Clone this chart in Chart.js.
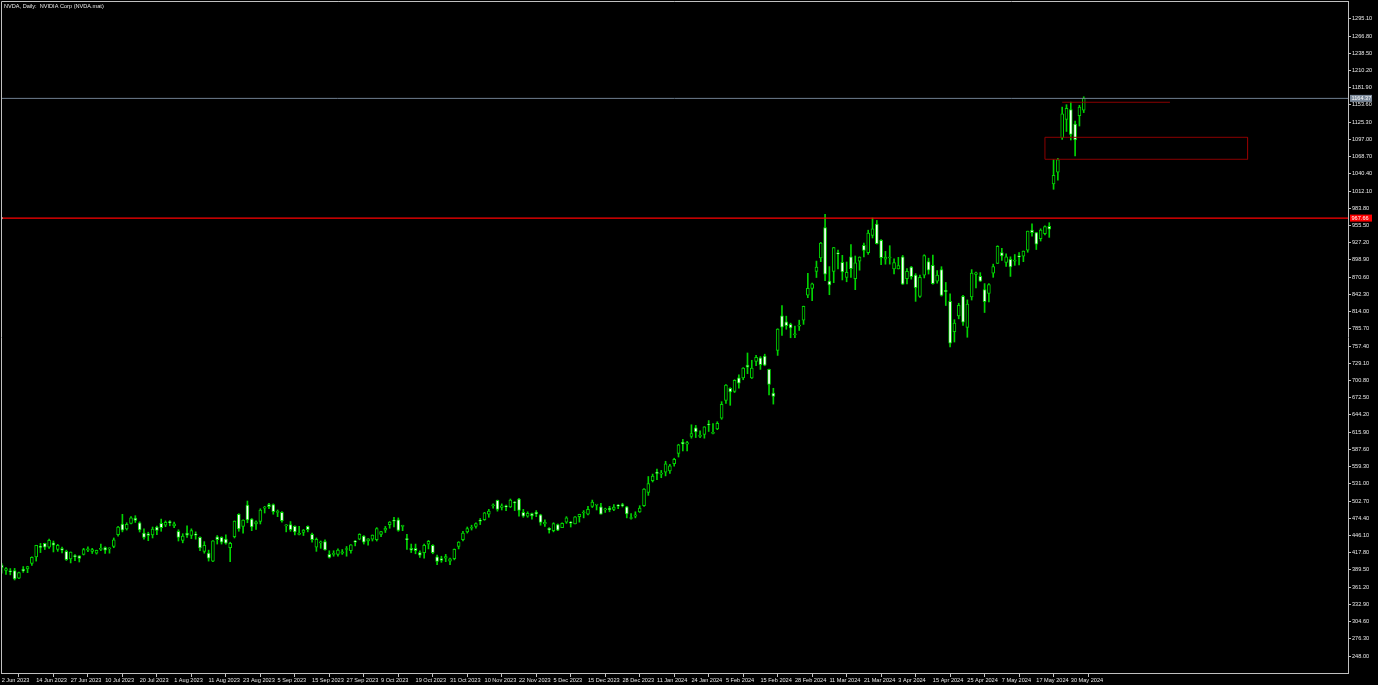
<!DOCTYPE html>
<html><head><meta charset="utf-8">
<script src="https://cdn.jsdelivr.net/npm/chart.js@4.4.1/dist/chart.umd.min.js"></script>
<style>html,body{margin:0;padding:0;background:#000;overflow:hidden}canvas{display:block}</style>
</head><body>
<canvas id="c" width="1378" height="685"></canvas>
<script>
const TITLE = 'NVDA, Daily:  NVIDIA Corp (NVDA.mat)';
const X_TICK_STEP = 8;
const X_TICK_LABELS = ['2 Jun 2023','14 Jun 2023','27 Jun 2023','10 Jul 2023','20 Jul 2023','1 Aug 2023','11 Aug 2023','23 Aug 2023','5 Sep 2023','15 Sep 2023','27 Sep 2023','9 Oct 2023','19 Oct 2023','31 Oct 2023','10 Nov 2023','22 Nov 2023','5 Dec 2023','15 Dec 2023','28 Dec 2023','11 Jan 2024','24 Jan 2024','5 Feb 2024','15 Feb 2024','28 Feb 2024','11 Mar 2024','21 Mar 2024','3 Apr 2024','15 Apr 2024','25 Apr 2024','7 May 2024','17 May 2024','30 May 2024'];
const Y_TICKS = [248.00,276.30,304.60,332.90,361.20,389.50,417.80,446.10,474.40,502.70,531.00,559.30,587.60,615.90,644.20,672.50,700.80,729.10,757.40,785.70,814.00,842.30,870.60,898.90,927.20,955.50,983.80,1012.10,1040.40,1068.70,1097.00,1125.30,1153.60,1181.90,1210.20,1238.50,1266.80,1295.10];

const OPEN = [
397.4,388.5,388.0,388.4,375.9,390.5,391.0,400.0,411.0,427.0,
433.0,427.0,434.0,423.0,424.5,420.0,407.5,413.0,412.5,415.0,
422.0,420.0,417.0,423.0,426.0,424.0,428.0,447.5,465.0,457.0,
466.0,474.5,467.0,450.0,449.0,447.0,460.0,466.0,463.0,468.0,
462.0,453.0,438.0,450.0,446.0,447.0,443.0,420.0,417.0,404.0,
444.0,443.0,440.0,426.0,444.0,481.0,461.0,496.0,473.0,465.0,
469.0,491.0,497.0,497.0,484.0,484.0,462.0,464.0,461.0,448.0,
451.0,461.0,448.0,427.0,434.0,436.0,415.0,415.0,415.0,417.0,
423.0,421.0,437.0,440.0,445.0,437.0,440.0,439.0,448.0,455.0,
464.0,470.0,472.0,461.0,441.0,425.0,425.0,418.0,418.0,432.0,
430.0,411.0,408.0,409.0,404.0,408.0,428.0,439.0,452.0,458.0,
461.0,470.0,472.0,481.0,495.0,504.0,492.0,494.0,493.0,500.0,
506.0,484.0,478.0,482.0,484.0,480.0,465.0,458.0,454.0,464.0,
459.0,468.0,467.0,465.0,477.0,483.0,481.0,494.0,496.0,493.0,
488.0,491.0,489.0,495.0,497.0,493.0,474.0,478.0,485.0,495.0,
517.0,536.0,549.0,547.0,550.0,552.0,564.0,581.0,599.0,596.0,
609.0,623.0,609.0,612.0,629.0,614.0,621.0,639.0,668.0,688.0,
683.0,705.0,705.0,726.0,705.0,732.0,738.0,741.0,719.0,680.0,
750.0,807.0,797.0,793.0,776.0,790.0,800.0,841.0,852.0,880.0,
902.0,952.0,864.0,880.0,910.0,895.0,870.0,904.0,868.0,897.0,
923.0,911.0,939.0,958.0,931.0,900.0,902.0,884.0,884.0,904.0,
868.0,887.0,874.0,839.0,874.0,896.0,890.0,864.0,883.0,849.0,
831.0,781.0,807.0,839.0,788.0,838.0,875.0,872.0,850.0,844.0,
877.0,893.0,911.0,895.0,900.0,897.0,905.0,905.0,915.0,948.0,
944.0,934.0,942.0,954.0,1024.0,1043.0,1100.0,1130.0,1146.0,1122.0,1136.0,1145.0];
const HIGH = [
400.0,393.4,391.7,392.0,386.0,395.0,395.5,410.9,430.0,433.0,
433.4,440.0,437.0,431.5,427.0,422.0,419.0,414.5,413.0,425.0,
427.5,425.0,422.0,432.0,427.5,426.0,442.0,461.0,480.9,467.0,
477.0,478.6,468.5,457.0,451.5,460.0,461.5,473.0,470.0,470.5,
468.0,455.5,449.0,462.0,457.0,452.0,444.0,436.0,422.0,437.7,
446.0,444.0,447.0,435.0,470.0,481.9,472.0,502.7,474.0,470.0,
490.0,494.0,499.0,498.0,488.0,485.5,464.0,469.0,462.0,461.0,
456.0,461.9,450.0,442.0,437.0,439.0,421.0,421.0,424.0,423.0,
428.0,431.0,438.0,449.0,446.0,441.0,447.0,459.0,453.0,461.0,
469.0,476.0,475.0,463.0,448.0,432.0,432.0,421.0,432.0,438.0,
431.0,414.0,412.0,415.0,409.0,424.0,436.0,453.0,460.0,463.0,
467.0,474.0,484.0,489.0,498.0,504.3,498.0,496.0,506.0,502.0,
507.0,489.0,485.0,483.0,487.0,481.0,472.0,459.0,467.0,465.0,
467.0,477.0,469.0,477.0,481.0,487.0,494.0,504.3,497.0,499.0,
491.0,494.0,497.0,497.0,499.0,494.0,482.0,485.0,495.0,523.0,
543.0,547.0,555.0,553.0,568.0,563.0,573.0,596.0,604.0,601.0,
628.0,627.0,618.0,624.9,634.9,630.0,633.0,666.0,694.0,688.9,
702.0,710.0,721.9,746.0,734.0,742.0,740.0,744.0,719.6,688.0,
785.8,823.9,806.5,795.0,790.0,799.9,823.0,876.9,861.0,897.0,
927.7,974.0,887.9,919.6,915.0,906.5,895.5,924.0,905.4,904.0,
926.5,947.8,967.7,963.8,932.5,913.0,922.3,900.9,903.1,906.3,
884.8,888.3,876.4,874.0,907.4,901.8,906.8,881.2,887.8,861.9,
843.2,800.7,827.7,840.8,833.2,883.0,879.0,878.0,860.0,860.0,
892.0,922.2,918.0,909.1,904.0,907.8,911.0,913.6,946.3,958.2,
944.2,950.0,955.0,960.0,1064.0,1066.0,1150.0,1154.0,1158.2,1127.0,1153.0,1167.0];
const LOW = [
384.3,382.0,381.4,373.0,375.0,385.5,385.0,397.0,404.0,418.0,
423.0,425.0,419.0,420.0,417.5,405.0,401.0,404.5,402.5,414.0,
419.5,416.5,415.5,421.0,416.5,417.0,426.0,445.0,452.0,455.0,
465.0,467.5,451.8,440.0,437.5,442.0,447.5,453.0,460.5,462.0,
459.0,437.0,434.0,443.0,441.0,440.0,421.0,417.0,404.0,403.0,
432.0,432.0,432.0,403.0,442.0,453.0,450.0,467.0,454.0,456.0,
465.0,483.0,490.0,481.0,477.0,468.0,452.0,453.0,447.0,447.0,
446.0,452.0,435.0,420.0,425.0,422.0,409.0,412.0,412.0,415.0,
412.0,417.0,429.0,439.0,432.0,430.0,437.0,437.0,444.0,451.0,
458.0,460.0,453.0,454.0,423.0,418.0,416.0,410.0,409.0,424.0,
416.0,398.0,402.0,403.0,398.0,406.0,424.0,437.0,450.0,455.0,
458.0,464.0,471.0,476.0,491.0,486.0,488.0,487.0,492.0,487.0,
478.0,476.0,476.0,473.0,477.0,463.0,461.0,450.0,452.0,454.0,
459.0,466.0,460.0,465.0,468.0,475.0,480.0,492.0,488.0,481.0,
484.0,485.0,487.0,490.0,493.0,475.0,473.0,475.0,484.0,494.0,
512.0,534.0,538.0,541.0,544.0,548.0,560.0,575.0,585.0,585.0,
606.0,607.0,607.0,606.0,617.0,613.0,620.0,637.0,663.0,660.0,
681.0,688.0,702.0,712.0,704.0,725.0,719.0,725.0,677.0,662.0,
742.0,775.0,785.0,771.0,771.0,783.0,793.0,837.0,832.0,870.0,
896.0,865.0,841.7,861.5,884.0,866.0,863.0,870.0,850.0,882.0,
904.0,908.0,935.0,925.0,891.0,891.9,892.0,876.0,884.0,858.5,
859.3,867.3,830.8,837.1,869.3,875.7,859.2,860.6,839.5,824.0,
756.1,764.0,802.1,791.2,771.8,833.0,852.7,863.5,812.5,830.0,
870.3,893.0,898.2,888.2,871.8,890.0,890.7,896.0,911.5,938.0,
916.0,929.9,940.0,936.0,1015.0,1030.0,1097.0,1110.0,1096.0,1070.0,1119.0,1141.0];
const CLOSE = [
393.3,391.7,386.5,374.8,385.1,387.7,394.8,410.2,430.0,426.5,
426.9,438.1,430.3,430.1,422.1,406.3,418.8,411.2,408.2,423.0,
424.1,423.1,421.8,425.0,421.8,424.0,438.8,459.8,454.7,464.6,
474.9,470.8,455.2,443.1,446.1,456.8,454.5,459.0,467.5,467.3,
465.1,442.7,445.2,446.8,454.2,446.6,425.5,430.0,408.6,437.5,
439.4,434.9,433.4,433.0,469.7,456.7,471.2,471.6,460.2,468.4,
487.8,492.6,493.6,485.1,485.5,470.6,462.4,455.7,451.8,448.7,
454.9,455.8,439.0,439.7,435.2,422.4,410.2,416.1,422.2,419.1,
424.7,430.9,435.0,447.8,435.2,440.4,446.9,457.6,452.7,458.0,
468.1,469.5,454.6,461.0,439.4,422.0,421.0,413.9,429.8,436.6,
417.8,403.3,405.0,411.6,407.8,423.3,435.1,450.1,457.5,459.6,
465.7,469.5,483.4,486.2,496.6,488.9,494.8,493.0,504.1,499.4,
487.2,477.8,482.4,478.2,481.4,467.7,467.7,455.1,465.7,455.0,
466.0,475.1,466.3,476.6,480.9,483.5,488.9,500.8,496.0,481.1,
489.9,488.3,492.8,494.2,495.2,481.7,475.7,480.0,491.0,522.5,
531.4,543.5,548.2,547.1,563.8,560.5,571.1,594.9,596.5,598.7,
613.6,616.2,610.3,624.7,627.7,615.3,630.3,661.6,693.3,682.2,
701.0,696.4,721.3,722.5,721.3,739.0,726.6,726.1,694.5,674.7,
785.4,788.2,790.9,787.0,776.6,791.1,822.8,852.4,859.6,887.0,
926.7,875.3,857.7,919.1,908.9,879.4,878.4,884.6,894.0,903.7,
914.4,942.9,950.0,925.6,902.5,903.6,903.6,894.5,889.6,859.1,
880.1,871.3,853.5,870.4,906.2,881.9,860.0,874.2,840.4,846.7,
762.0,795.2,824.2,796.8,826.3,877.4,877.6,864.0,830.4,858.2,
887.9,921.4,905.5,904.1,887.5,898.8,904.0,913.6,946.3,943.6,
924.8,947.8,953.9,949.5,1038.0,1064.0,1139.0,1148.0,1105.0,1096.0,1150.0,1164.4];

const BID = 1164.37;           // current price line
const LEVEL = 967.66;          // red horizontal level
const TREND_X = [246, 271], TREND_Y = [1158.0, 1158.0];
const ZONE_X = [242, 289], ZONE_Y = [1064.3, 1100.4];
const X_MIN = -0.16, X_MAX = 312.3, Y_MIN = 220.1, Y_MAX = 1324.4;

const GREEN = '#00d400';
const AXIS = '#c0c0c0';
const TXT = '#e8e8e8';
const FONT = {family: '"Liberation Sans", Arial, sans-serif', size: 5.6};

const idx = OPEN.map((_, i) => i);
const wickData = idx.map(i => ({x: i, y: [LOW[i], HIGH[i]]}));
const bodyData = idx.map(i => ({x: i, y: [Math.min(OPEN[i], CLOSE[i]), Math.max(OPEN[i], CLOSE[i])]}));
const bodyFill = idx.map(i => CLOSE[i] >= OPEN[i] ? '#000000' : '#ffffff');

const zonePts = [[0,1],[1,1],[1,0],[0,0],[0,1]].map(([a,b]) => ({x: ZONE_X[a], y: ZONE_Y[b]}));

const noPad = ax => { ax.paddingLeft = 0; ax.paddingRight = 0; ax.paddingTop = 0; ax.paddingBottom = 0; };

const overlay = {
  id: 'overlay',
  afterDraw(chart) {
    const {ctx, chartArea: a, scales: {y}} = chart;
    ctx.save();
    ctx.strokeStyle = AXIS; ctx.lineWidth = 1;
    ctx.beginPath();
    ctx.moveTo(a.left + 0.5, a.bottom); ctx.lineTo(a.left + 0.5, a.top + 0.5); ctx.lineTo(a.right, a.top + 0.5);
    ctx.stroke();
    ctx.font = FONT.size + 'px ' + FONT.family;
    ctx.textBaseline = 'middle';
    ctx.fillStyle = TXT;
    ctx.fillText(TITLE, a.left + 3, a.top + 5);
    const box = (v, bg, fg) => {
      const py = y.getPixelForValue(v);
      ctx.fillStyle = bg; ctx.fillRect(a.right + 2, py - 3.5, 22, 7);
      ctx.fillStyle = fg; ctx.fillText(v.toFixed(2), a.right + 3.5, py + 0.3);
    };
    box(BID, '#7a8899', '#ffffff');
    box(LEVEL, '#ff0000', '#ffffff');
    ctx.restore();
  }
};

new Chart(document.getElementById('c'), {
  type: 'bar',
  data: {
    datasets: [
      {type: 'line', data: [{x: X_MIN, y: BID}, {x: X_MAX, y: BID}], borderColor: '#6f7f90', borderWidth: 1, pointRadius: 0, order: 0},
      {type: 'line', data: [{x: X_MIN, y: LEVEL}, {x: X_MAX, y: LEVEL}], borderColor: '#ff0000', borderWidth: 1.3, pointRadius: [1.6, 0], pointBackgroundColor: '#ffffff', pointBorderWidth: 0, order: 0},
      {type: 'line', data: TREND_X.map((x, k) => ({x, y: TREND_Y[k]})), borderColor: '#8b0000', borderWidth: 1, pointRadius: 0, order: 0},
      {type: 'line', data: zonePts, borderColor: '#8b0000', borderWidth: 1, pointRadius: 0, order: 0},
      {type: 'bar', data: bodyData, backgroundColor: bodyFill, borderColor: GREEN, borderWidth: 1, borderSkipped: false, barThickness: 3, minBarLength: 1, grouped: false, order: 1},
      {type: 'bar', data: wickData, backgroundColor: GREEN, barThickness: 1, grouped: false, order: 2}
    ]
  },
  options: {
    responsive: false, animation: false, devicePixelRatio: 1,
    layout: {autoPadding: false, padding: {top: 1, left: 1, right: 0, bottom: 0}},
    plugins: {legend: {display: false}, tooltip: {enabled: false}, title: {display: false}},
    scales: {
      x: {
        type: 'linear', min: X_MIN, max: X_MAX, offset: false,
        afterBuildTicks: ax => { ax.ticks = X_TICK_LABELS.map((_, k) => ({value: k * X_TICK_STEP})); },
        ticks: {autoSkip: false, maxRotation: 0, minRotation: 0, align: 'start', padding: 0, color: TXT, font: FONT,
          callback: v => X_TICK_LABELS[Math.round(v / X_TICK_STEP)] ?? ''},
        grid: {drawOnChartArea: false, drawTicks: true, tickLength: 4, color: AXIS},
        border: {display: true, color: AXIS},
        afterFit: ax => { ax.height = 12; noPad(ax); }
      },
      y: {
        position: 'right', min: Y_MIN, max: Y_MAX,
        afterBuildTicks: ax => { ax.ticks = Y_TICKS.map(v => ({value: v})); },
        ticks: {autoSkip: false, padding: 1, color: TXT, font: FONT, callback: v => Number(v).toFixed(2)},
        grid: {drawOnChartArea: false, drawTicks: true, tickLength: 3, color: AXIS},
        border: {display: true, color: AXIS},
        afterFit: ax => { ax.width = 30; noPad(ax); }
      }
    }
  },
  plugins: [overlay]
});
</script>
</body></html>
